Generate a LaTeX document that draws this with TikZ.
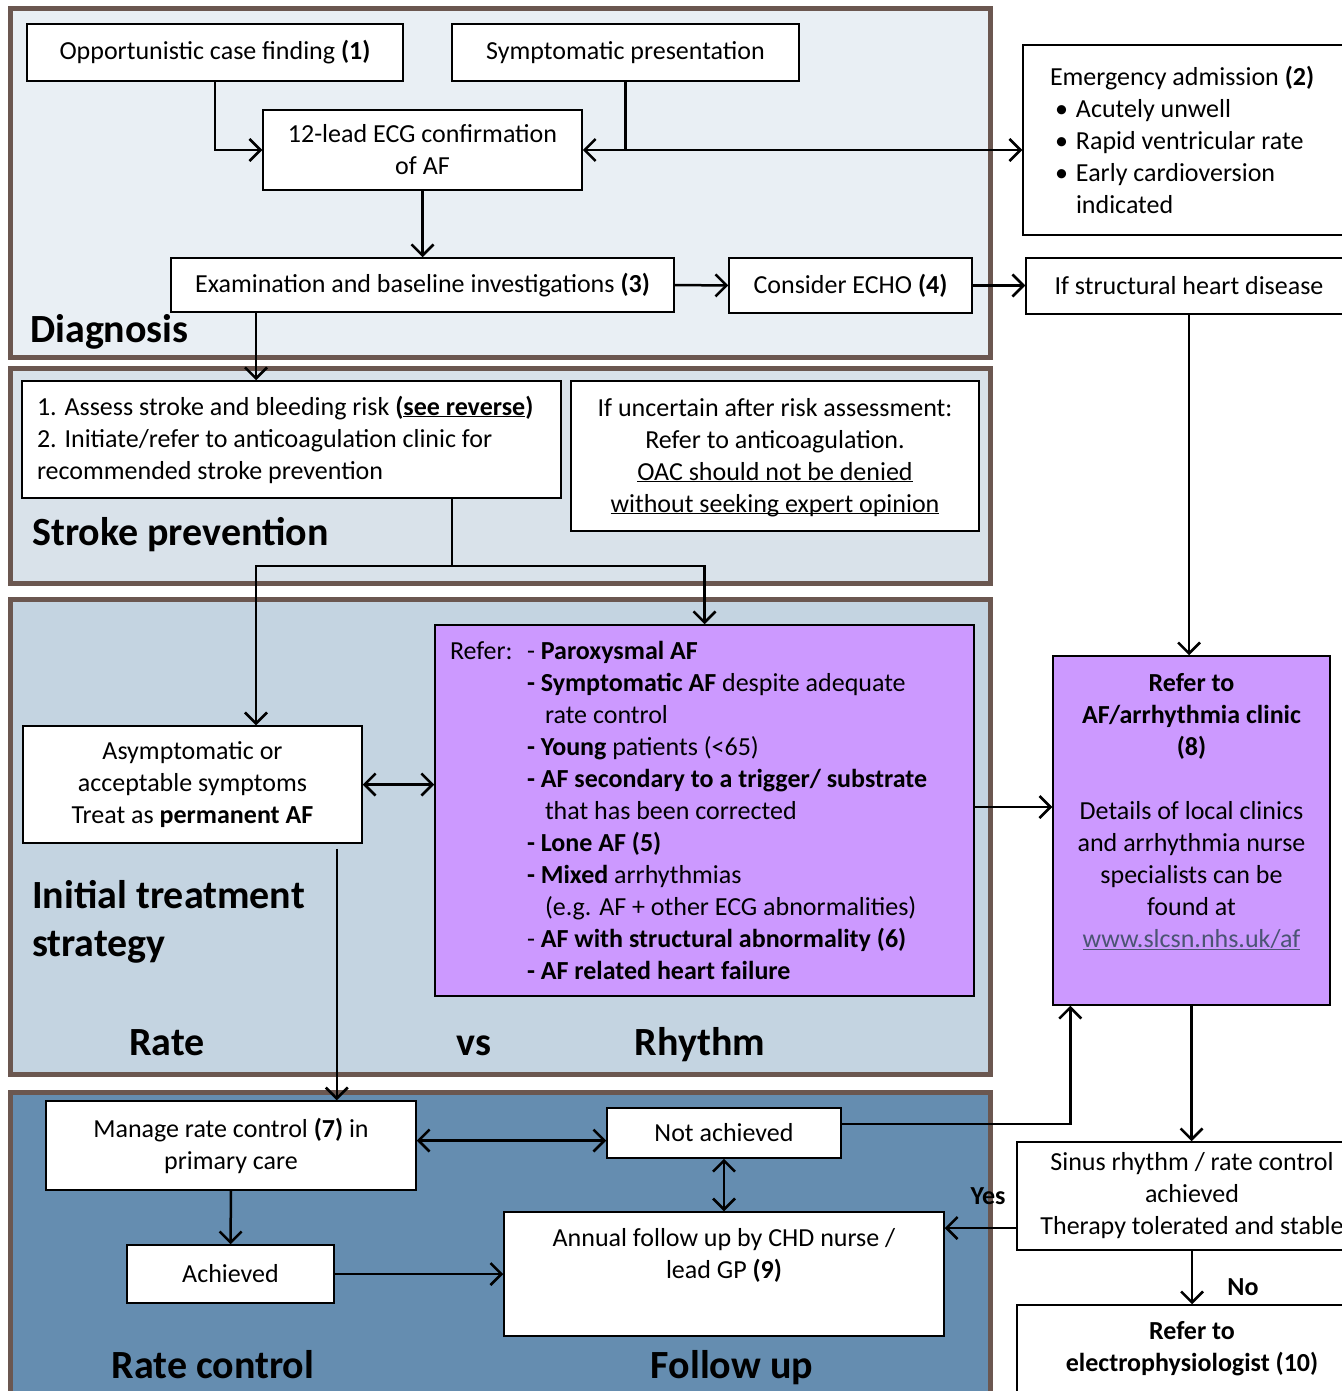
\documentclass[tikz,border=0pt]{standalone}
\usepackage{fontspec}
\setmainfont{Carlito}
\usetikzlibrary{arrows.meta}

\newcommand{\ulined}[1]{\underline{\smash{#1}}}

\definecolor{panelbrown}{RGB}{107,87,80}
\definecolor{diagfill}{RGB}{233,239,244}
\definecolor{strokefill}{RGB}{217,226,234}
\definecolor{initfill}{RGB}{196,212,225}
\definecolor{ratefill}{RGB}{101,141,176}
\definecolor{referpurple}{RGB}{204,153,255}
\definecolor{linkgrey}{RGB}{75,84,115}

\tikzset{
	panel/.style={draw=panelbrown, line width=5pt},
	box/.style={draw, fill=white, line width=1.5pt, align=center, inner sep=0pt, font=\fontsize{26}{32}\selectfont},
	flow/.style={line width=2.5pt, -{Straight Barb[length=11pt, width=22pt]}},
	twoway/.style={line width=2.5pt, {Straight Barb[length=11pt, width=22pt]}-{Straight Barb[length=11pt, width=22pt]}},
	heading/.style={font=\fontsize{40}{48}\selectfont\bfseries, inner sep=0pt},
	answer/.style={font=\fontsize{26}{32}\selectfont\bfseries, inner sep=0pt},
}

\begin{document}
\begin{tikzpicture}[x=1pt, y=-1pt]
	\useasboundingbox (0,0) rectangle (1341,1391);
	\fill[white] (0,0) rectangle (1341,1391);

	\draw[panel, fill=diagfill] (10,9) rectangle (990,357);
	\draw[panel, fill=strokefill] (10,368) rectangle (990,583);
	\draw[panel, fill=initfill] (10,599) rectangle (990,1074);
	\draw[panel, fill=ratefill] (10,1092) rectangle (990,1396);

	\node[heading, anchor=base west] (diaghead) at (30,342) {Diagnosis};
	\node[heading, anchor=base west] (strokehead) at (32,545) {Stroke prevention};
	\node[heading, anchor=west, align=left] (inithead) at (32,922) {Initial treatment\\strategy};
	\node[heading, anchor=base] (ratehead) at (167,1055) {Rate};
	\node[heading, anchor=base] (vshead) at (474,1055) {vs};
	\node[heading, anchor=base] (rhythmhead) at (700,1055) {Rhythm};
	\node[heading, anchor=base] (ratecontrolhead) at (213,1378) {Rate control};
	\node[heading, anchor=base] (followhead) at (732,1378) {Follow up};

	\node[box, minimum width=376pt, minimum height=57pt] (opp) at (215,52.5) {Opportunistic case finding \textbf{(1)}};
	\node[box, minimum width=347pt, minimum height=57pt] (symp) at (625.5,52.5) {Symptomatic presentation};
	\node[box, minimum width=319pt, minimum height=80pt] (ecg) at (422.5,150) {12-lead ECG confirmation\\of AF};
	\node[box, minimum width=503pt, minimum height=54pt] (exam) at (422.5,285) {Examination and baseline investigations \textbf{(3)}};
	\node[box, minimum width=243pt, minimum height=55pt] (echo) at (850.5,285.5) {Consider ECHO \textbf{(4)}};
	\node[box, minimum width=350pt, minimum height=190pt, align=flush left, inner xsep=27pt, text width=296pt] (emerg) at (1198,140) {Emergency admission \textbf{(2)}\\
		\hspace*{26pt}\llap{\textbullet\hspace{8pt}}Acutely unwell\\
		\hspace*{26pt}\llap{\textbullet\hspace{8pt}}Rapid ventricular rate\\
		\hspace*{26pt}\llap{\textbullet\hspace{8pt}}Early cardioversion\\
		\hspace*{26pt}indicated};
	\node[box, minimum width=326pt, minimum height=56pt] (struct) at (1189,286) {If structural heart disease};

	\node[box, minimum width=539pt, minimum height=117pt, align=flush left, inner xsep=15pt, text width=509pt] (assess) at (291.5,439.5) {\mbox{1. Assess stroke and bleeding risk \textbf{(\ulined{see reverse})}}\\
		2. Initiate/refer to anticoagulation clinic for\\
		recommended stroke prevention};
	\node[box, minimum width=408pt, minimum height=150pt] (uncert) at (775,456) {If uncertain after risk assessment:\\
		Refer to anticoagulation.\\
		\ulined{OAC should not be denied}\\
		\ulined{without seeking expert opinion}};

	\node[box, minimum width=339pt, minimum height=117pt] (asym) at (192.5,784.5) {Asymptomatic or\\acceptable symptoms\\Treat as \textbf{permanent AF}};
	\node[box, fill=referpurple, minimum width=539pt, minimum height=371pt, align=flush left, inner xsep=15pt, text width=509pt] (refer) at (704.5,810.5) {\makebox[77pt][l]{Refer:}- \textbf{Paroxysmal AF}\\
		\hspace*{77pt}\textbf{- Symptomatic AF} despite adequate\\
		\hspace*{95pt}rate control\\
		\hspace*{77pt}\textbf{- Young} patients (<65)\\
		\hspace*{77pt}\textbf{- AF secondary to a trigger/ substrate}\\
		\hspace*{95pt}that has been corrected\\
		\hspace*{77pt}\textbf{- Lone AF (5)}\\
		\hspace*{77pt}\textbf{- Mixed} arrhythmias\\
		\hspace*{95pt}(e.g. AF + other ECG abnormalities)\\
		\hspace*{77pt}- \textbf{AF with structural abnormality (6)}\\
		\hspace*{77pt}\textbf{- AF related heart failure}};
	\node[box, fill=referpurple, minimum width=277pt, minimum height=349pt] (clinic) at (1191.5,830.5) {};
	\node[anchor=north, align=center, inner sep=0pt, font=\fontsize{26}{32}\selectfont] (clinictext) at ([yshift=-18pt]clinic.north) {\textbf{Refer to}\\
		\textbf{AF/arrhythmia clinic}\\
		\textbf{(8)}\\[32pt]
		Details of local clinics\\
		and arrhythmia nurse\\
		specialists can be\\
		found at\\
		\textcolor{linkgrey}{\ulined{www.slcsn.nhs.uk/af}}};

	\node[box, minimum width=370pt, minimum height=89pt] (manage) at (231,1145.5) {Manage rate control \textbf{(7)} in\\primary care};
	\node[box, minimum width=234pt, minimum height=50pt] (notach) at (724,1133) {Not achieved};
	\node[box, minimum width=207pt, minimum height=58pt] (achieved) at (230.5,1274) {Achieved};
	\node[box, minimum width=440pt, minimum height=124pt] (annual) at (724,1274) {};
	\node[anchor=north, align=center, inner sep=0pt, font=\fontsize{26}{32}\selectfont] (annualtext) at ([yshift=-17pt]annual.north) {Annual follow up by CHD nurse /\\lead GP \textbf{(9)}};
	\node[box, minimum width=350pt, minimum height=108pt] (sinus) at (1192,1196) {Sinus rhythm / rate control\\achieved\\Therapy tolerated and stable};
	\node[box, minimum width=350pt, minimum height=88pt] (ep) at (1192,1349) {\textbf{Refer to}\\\textbf{electrophysiologist (10)}};

	\coordinate (leftrail) at (256,0);
	\coordinate (split) at (452,566);

	\draw[flow] (opp.south) |- (ecg.west);
	\draw[flow] (symp.south) |- (ecg.east);
	\draw[flow] (symp.south |- ecg.east) -- (emerg.west |- ecg.east);
	\draw[flow] (ecg.south) -- (exam.north);
	\draw[flow] (exam.east) -- (echo.west);
	\draw[flow] (echo.east) -- (echo.east -| struct.west);
	\draw[flow] (exam.south -| leftrail) -- (assess.north -| leftrail);
	\draw[flow] (struct.south) -- (struct.south |- clinic.north);

	\draw[line width=2.5pt] (assess.south -| split) -- (split);
	\draw[flow] (split) -| (asym.north -| leftrail);
	\draw[flow] (split) -| (refer.north);

	\draw[twoway] (asym.east) -- (asym.east -| refer.west);
	\draw[flow] (refer.east |- 0,807) -- (clinic.west |- 0,807);
	\draw[flow] ([xshift=-26pt, yshift=-5pt]asym.south east) -- ([xshift=-26pt]asym.south east |- manage.north);

	\draw[twoway] ([yshift=5pt]manage.east) -- ([yshift=5pt]manage.east -| notach.west);
	\draw[twoway] (notach.south) -- (annual.north);
	\draw[flow] (manage.south) -- (achieved.north);
	\draw[flow] (achieved.east) -- (achieved.east -| annual.west);
	\draw[flow] ([yshift=9pt]notach.east) -| ([xshift=18pt]clinic.south west);
	\draw[flow] (clinic.south) -- (clinic.south |- sinus.north);
	\draw[flow] ([yshift=-32pt]sinus.west) -- ([yshift=-32pt]sinus.west -| annual.east);
	\draw[flow] (sinus.south) -- (ep.north);

	\node[answer] (yes) at (988,1196) {Yes};
	\node[answer] (no) at (1243,1287) {No};
\end{tikzpicture}
\end{document}
